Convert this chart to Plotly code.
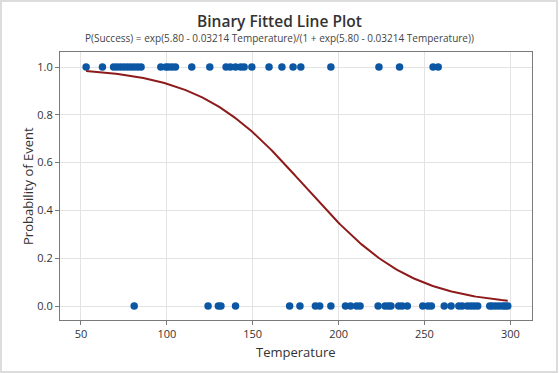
import numpy as np
import plotly.graph_objects as go

# Observed temperatures with outcome (1 = success, 0 = failure)
temp_success = [53, 62.5, 69, 71, 73, 75, 77, 79, 81, 83, 85, 96.5, 99.5, 101, 103, 105,
                114.5, 125, 134.5, 137, 140, 143, 145, 149.5, 159.5, 167, 173.5, 178,
                195.5, 223.5, 235.5, 255, 258]
temp_failure = [81, 124, 130, 131.5, 140, 171.5, 177.5, 186.5, 189, 195.5, 204, 207, 210.5,
                212.5, 223, 227, 229, 230.5, 235, 237, 240, 249, 252, 254, 261.5, 265.5,
                270, 272, 275, 277, 279, 281, 288, 289.5, 291.5, 293.5, 295.5, 297, 298.5]

# Fitted logistic model coefficients (from the subtitle)
b0 = 5.80
b1 = -0.03214

x_ticks = [50, 100, 150, 200, 250, 300]
y_ticks = [0.0, 0.2, 0.4, 0.6, 0.8, 1.0]

t_all = temp_success + temp_failure
t_fit = np.linspace(min(t_all), max(t_all), 200)
eta = b0 + b1 * t_fit
p_fit = np.exp(eta) / (1 + np.exp(eta))

W, H = 559, 373
ML, MR, MT, MB = 60, 27, 52, 53
plot_w = W - ML - MR
plot_h = H - MT - MB

def py(ypix):
    return (H - MB - ypix) / plot_h

def px(xpix):
    return (xpix - ML) / plot_w

fig = go.Figure()
fig.add_trace(go.Scatter(
    x=temp_success + temp_failure,
    y=[1] * len(temp_success) + [0] * len(temp_failure),
    mode="markers",
    marker=dict(color="#0B57A4", size=7.5),
    showlegend=False,
))
fig.add_trace(go.Scatter(
    x=t_fit, y=p_fit, mode="lines",
    line=dict(color="#8E1B1B", width=2),
    showlegend=False,
))

font_family = "Open Sans, Noto Sans, sans-serif"
axis_common = dict(
    showline=True, linecolor="#7a7a7a", linewidth=1, mirror=True,
    showgrid=True, gridcolor="#e3e3e3", gridwidth=1,
    ticks="outside", ticklen=4, tickcolor="#7a7a7a",
    zeroline=False, automargin=False,
    tickfont=dict(family=font_family, size=11, color="#333333"),
)

fig.update_layout(
    width=W, height=H,
    margin=dict(l=ML, r=MR, t=MT, b=MB),
    paper_bgcolor="white", plot_bgcolor="white",
    font=dict(family=font_family, color="#333333"),
    xaxis=dict(range=[37.8, 312.6], tickvals=x_ticks, **axis_common),
    yaxis=dict(range=[-0.0586, 1.0628], tickvals=y_ticks, tickformat=".1f", **axis_common),
)

fig.add_annotation(text="Binary Fitted Line Plot", x=px(279.5), y=py(21), xref="paper", yref="paper",
                   showarrow=False, xanchor="center", yanchor="middle",
                   font=dict(size=15.5, color="#333333", family=font_family, weight=600))
fig.add_annotation(text="P(Success) = exp(5.80 - 0.03214 Temperature)/(1 + exp(5.80 - 0.03214 Temperature))",
                   x=px(279.5), y=py(38), xref="paper", yref="paper",
                   showarrow=False, xanchor="center", yanchor="middle",
                   font=dict(size=10, color="#444444", family=font_family))
fig.add_annotation(text="Temperature", x=px(296), y=py(352), xref="paper", yref="paper",
                   showarrow=False, xanchor="center", yanchor="middle",
                   font=dict(size=13, color="#333333", family=font_family))
fig.add_annotation(text="Probability of Event", x=px(28), y=py(186), xref="paper", yref="paper",
                   showarrow=False, xanchor="center", yanchor="middle", textangle=-90,
                   font=dict(size=13, color="#333333", family=font_family))

# light outer border of the figure
fig.add_shape(type="rect", xref="paper", yref="paper",
              x0=px(1), x1=px(557), y0=py(372), y1=py(1),
              line=dict(color="#dcdcdc", width=2), fillcolor="rgba(0,0,0,0)", layer="below")

fig.write_html("out.html", config={"displayModeBar": False},
               post_script="document.body.style.margin='0';")
